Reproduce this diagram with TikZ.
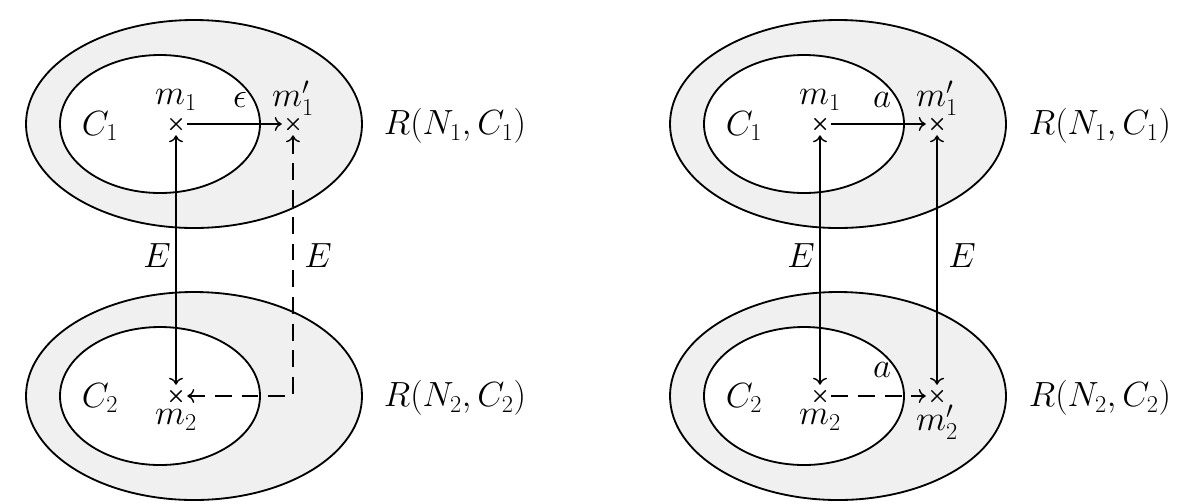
\documentclass[tikz,border=0pt]{standalone}
\usepackage{amsmath}
\usepackage{tikz}
\usetikzlibrary{arrows.meta}
\usetikzlibrary{shapes.misc}

\begin{document}
\begin{tikzpicture}[x=0.025cm,y=-0.025cm,
    every node/.style={font=\fontsize{24}{28}\selectfont},
    region/.style={draw, line width=1.3pt, fill=gray!12},
    core/.style={draw, line width=1.3pt, fill=white},
    pt/.style={cross out, draw, line width=1pt, minimum size=7pt, inner sep=0pt},
    link/.style={line width=1pt, {To[length=5pt,width=10pt]}-{To[length=5pt,width=10pt]}, shorten <=4pt, shorten >=4pt},
    onelink/.style={line width=1pt, -{To[length=5pt,width=10pt]}, shorten <=4pt, shorten >=4pt}]
    \useasboundingbox (0,0) rectangle (1200,502);

    % left diagram
    \draw[region] (194,124) ellipse (168 and 104);
    \draw[core] (160,124) ellipse (100 and 69);
    \draw[region] (194,396) ellipse (168 and 104);
    \draw[core] (160,396) ellipse (100 and 69);

    \node[pt] (lm1) at (176,124) {};
    \node[pt] (lm1p) at (293,124) {};
    \node[pt] (lm2) at (176,396) {};
    \coordinate (lcorner) at (293,396);

    \node at (100,126) {$C_1$};
    \node at (100,398) {$C_2$};
    \node at (176,100) {$m_1$};
    \node at (293,98) {$m_1'$};
    \node at (176,420) {$m_2$};
    \node at (240,100) {$\epsilon$};
    \node at (157,256) {$E$};
    \node at (318,256) {$E$};
    \node at (455,126) {$R(N_1,C_1)$};
    \node at (455,398) {$R(N_2,C_2)$};

    \draw[onelink] (lm1) -- (lm1p);
    \draw[link] (lm1) -- (lm2);
    \draw[link, dashed, dash pattern=on 12pt off 7pt] (lm1p) -- (lcorner) -- (lm2);

    % right diagram
    \draw[region] (838,124) ellipse (168 and 104);
    \draw[core] (804,124) ellipse (100 and 69);
    \draw[region] (838,396) ellipse (168 and 104);
    \draw[core] (804,396) ellipse (100 and 69);

    \node[pt] (rm1) at (820,124) {};
    \node[pt] (rm1p) at (937,124) {};
    \node[pt] (rm2) at (820,396) {};
    \node[pt] (rm2p) at (937,396) {};

    \node at (744,126) {$C_1$};
    \node at (744,398) {$C_2$};
    \node at (820,100) {$m_1$};
    \node at (937,98) {$m_1'$};
    \node at (820,420) {$m_2$};
    \node at (937,422) {$m_2'$};
    \node at (882,100) {$a$};
    \node at (882,370) {$a$};
    \node at (801,256) {$E$};
    \node at (962,256) {$E$};
    \node at (1100,126) {$R(N_1,C_1)$};
    \node at (1100,398) {$R(N_2,C_2)$};

    \draw[onelink] (rm1) -- (rm1p);
    \draw[link] (rm1) -- (rm2);
    \draw[link] (rm1p) -- (rm2p);
    \draw[onelink, dashed, dash pattern=on 12pt off 7pt] (rm2) -- (rm2p);
\end{tikzpicture}
\end{document}
